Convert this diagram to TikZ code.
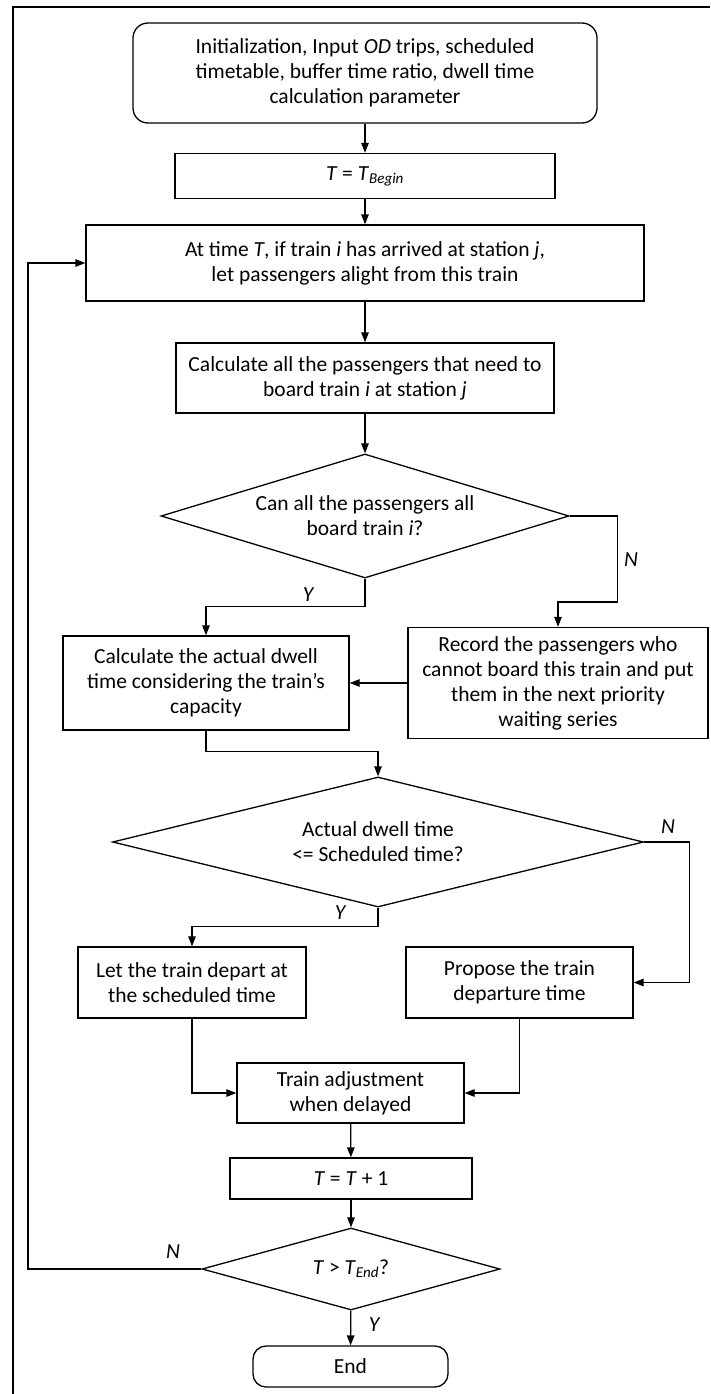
\documentclass[tikz,border=0pt]{standalone}
\usepackage{fontspec}
\setmainfont{Carlito}
\usetikzlibrary{arrows.meta,shapes.geometric}
\begin{document}
\begin{tikzpicture}[x=1pt,y=-1pt,
  every node/.style={font=\fontsize{21.5}{25}\selectfont},
  box/.style={draw,line width=1.3pt,rectangle,align=center,inner sep=0pt},
  term/.style={box,rounded corners=15pt},
  dec/.style={draw,line width=1.3pt,diamond,align=center,inner sep=0pt},
  arr/.style={line width=1.3pt,-{Triangle[length=10pt,width=7.5pt]}},
  ln/.style={line width=1.3pt},
  lbl/.style={font=\fontsize{21.5}{25}\selectfont\itshape}]
\useasboundingbox (0,0) rectangle (710,1394);
\fill[white] (0,0) rectangle (710,1394);
\draw[ln] (13,1394) -- (13,7) -- (710,7);

\node[term,minimum width=464pt,minimum height=100pt] (start) at (365,73)
  {Initialization, Input \textit{OD} trips, scheduled\\timetable, buffer time ratio, dwell time\\calculation parameter};
\node[box,minimum width=380pt,minimum height=45pt] (tb) at (365,176)
  {\textit{T} = \textit{T}\textsubscript{\textit{Begin}}};
\node[box,minimum width=558pt,minimum height=76pt] (box3) at (365,263)
  {At time \textit{T}, if train \textit{i} has arrived at station \textit{j},\\let passengers alight from this train};
\node[box,minimum width=378pt,minimum height=70pt] (box4) at (365,378)
  {Calculate all the passengers that need to\\board train \textit{i} at station \textit{j}};
\node[dec,aspect=3.3,minimum width=408pt,minimum height=124pt] (d1) at (365,516)
  {Can all the passengers all\\board train \textit{i}?};
\node[box,minimum width=286pt,minimum height=94pt] (box5) at (206,683)
  {Calculate the actual dwell\\time considering the train's\\capacity};
\node[box,minimum width=300pt,minimum height=111pt] (box6) at (558,683)
  {Record the passengers who\\cannot board this train and put\\them in the next priority\\waiting series};
\node[dec,aspect=4,minimum width=531pt,minimum height=130pt] (d2) at (378,842)
  {Actual dwell time\\<= Scheduled time?};
\node[box,minimum width=228pt,minimum height=71pt] (box7) at (192,982.5)
  {Let the train depart at\\the scheduled time};
\node[box,minimum width=227pt,minimum height=71pt] (box8) at (519.5,982.5)
  {Propose the train\\departure time};
\node[box,minimum width=227pt,minimum height=60pt] (box9) at (350.5,1093)
  {Train adjustment\\when delayed};
\node[box,minimum width=242pt,minimum height=41pt] (box10) at (351,1178.5)
  {\textit{T} = \textit{T} + 1};
\node[dec,aspect=3.6,minimum width=298pt,minimum height=82pt] (d3) at (351,1269)
  {\textit{T} > \textit{T}\textsubscript{\textit{End}}?};
\node[term,rounded corners=13pt,minimum width=195pt,minimum height=41pt] (end) at (350.5,1366.5)
  {End};

\node[lbl] (y1) at (308,595) {Y};
\node[lbl] (n1) at (631,560) {N};
\node[lbl] (y2) at (340,913) {Y};
\node[lbl] (n2) at (668,827) {N};
\node[lbl] (n3) at (173,1252) {N};
\node[lbl] (y3) at (374,1325) {Y};

\draw[arr] (start) -- (tb);
\draw[arr] (tb) -- (box3);
\draw[arr] (box3) -- (box4);
\draw[arr] (box4) -- (d1);
\draw[arr] (d1.south) -- ++(0,28) -| (box5.north);
\draw[arr] (d1.east) -- ++(48,0) -- ++(0,86) -| (box6.north);
\draw[arr] (box6.west) -- (box5.east);
\draw[arr] (box5.south) -- ++(0,21) -| (d2.north);
\draw[arr] (d2.south) -- ++(0,19) -| (box7.north);
\draw[arr] (d2.east) -- ++(45,0) |- (box8.east);
\draw[arr] (box7.south) |- (box9.west);
\draw[arr] (box8.south) |- (box9.east);
\draw[arr] (box9) -- (box10);
\draw[arr] (box10) -- (d3);
\draw[arr] (d3.west) -- ++(-173.5,0) |- (box3.west);
\draw[arr] (d3) -- (end);
\end{tikzpicture}
\end{document}
